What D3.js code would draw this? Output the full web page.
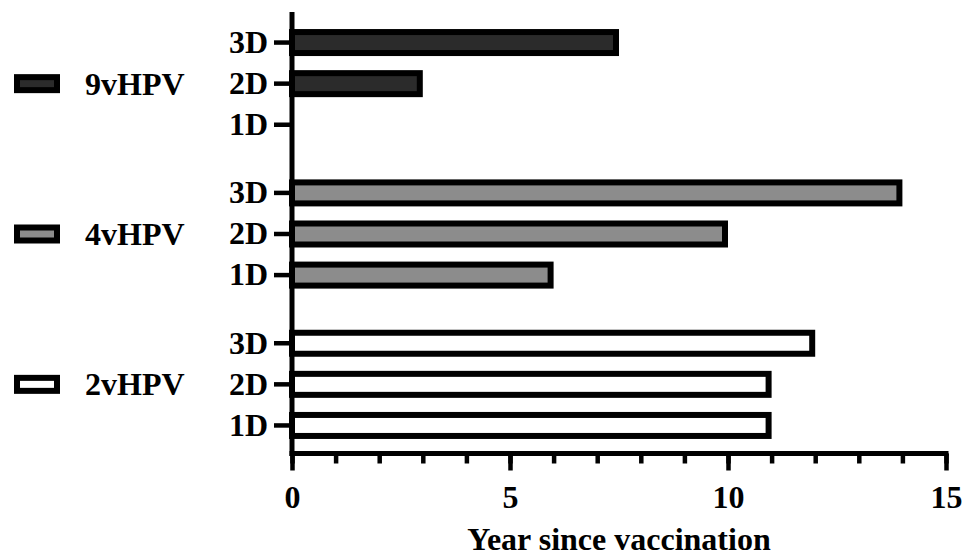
<!DOCTYPE html>
<html>
<head>
<meta charset="utf-8">
<script src="https://cdn.jsdelivr.net/npm/d3@7"></script>
<style>
  html, body { margin: 0; padding: 0; background: #fff; }
  svg { display: block; }
  text { font-family: "Liberation Serif", "Times New Roman", serif; font-weight: bold; fill: #000; }
</style>
</head>
<body>
<svg id="chart" width="962" height="560"></svg>
<script>
// ---- data ----
const vaccines = ["9vHPV", "4vHPV", "2vHPV"];
const doses = ["3D", "2D", "1D"];
const years9v = [7.5, 3, 0];
const years4v = [14, 10, 6];
const years2v = [12, 11, 11];
const fills = ["#2b2b2b", "#8c8c8c", "#ffffff"];
const xTicks = [0, 5, 10, 15];
const xTitle = "Year since vaccination";

const values = [years9v, years4v, years2v];
const rows = [];
vaccines.forEach((v, i) => doses.forEach((d, j) => rows.push({ vaccine: v, dose: d, value: values[i][j], fill: fills[i] })));

// ---- layout ----
const svg = d3.select("#chart");
const x = d3.scaleLinear().domain([0, 15]).range([292, 946]);
const yGroup = d3.scaleBand().domain(vaccines).range([22, 446]).paddingInner(0.18).paddingOuter(0);
const yDose = d3.scaleBand().domain(doses).range([0, yGroup.bandwidth()]).paddingInner(0.35).paddingOuter(0.175);

const barStroke = 6;
const rowCenter = d => yGroup(d.vaccine) + yDose(d.dose) + yDose.bandwidth() / 2;
const barH = 21;

// bars
svg.append("g").selectAll("rect")
  .data(rows.filter(r => r.value > 0))
  .join("rect")
  .attr("x", x(0))
  .attr("y", d => rowCenter(d) - barH / 2)
  .attr("width", d => x(d.value) - x(0) - barStroke / 2)
  .attr("height", barH)
  .attr("fill", d => d.fill)
  .attr("stroke", "#000")
  .attr("stroke-width", barStroke);

// y axis line
svg.append("line")
  .attr("x1", x(0)).attr("x2", x(0))
  .attr("y1", 12).attr("y2", 456)
  .attr("stroke", "#000").attr("stroke-width", 5);

// y axes per group
vaccines.forEach(v => {
  const g = svg.append("g")
    .attr("transform", `translate(${x(0)},${yGroup(v)})`)
    .call(d3.axisLeft(yDose).tickSize(18).tickPadding(6).tickSizeOuter(0));
  g.select(".domain").remove();
  g.selectAll(".tick line").attr("stroke", "#000").attr("stroke-width", 4.5);
  g.selectAll(".tick text")
    .attr("font-size", 32)
    .attr("font-family", "Liberation Serif, Times New Roman, serif")
    .attr("font-weight", "bold")
    .attr("fill", "#000");
});

// x axis
const axisY = 453.5;
const minor = svg.append("g")
  .attr("transform", `translate(0,${axisY})`)
  .call(d3.axisBottom(x).ticks(15).tickSize(10).tickSizeOuter(0).tickFormat(""));
minor.select(".domain").remove();
minor.selectAll(".tick line").attr("stroke", "#000").attr("stroke-width", 4.5);

const major = svg.append("g")
  .attr("transform", `translate(0,${axisY})`)
  .call(d3.axisBottom(x).tickValues(xTicks).tickSize(17).tickSizeOuter(0).tickFormat(d3.format("d")));
major.select(".domain").remove();
major.selectAll(".tick line").attr("stroke", "#000").attr("stroke-width", 4.5);
major.selectAll(".tick text")
  .attr("y", 54).attr("dy", 0)
  .attr("font-size", 32)
  .attr("font-family", "Liberation Serif, Times New Roman, serif")
  .attr("font-weight", "bold")
  .attr("fill", "#000");

svg.append("line")
  .attr("x1", x(0) - 2.5).attr("x2", x(15) + 2.5)
  .attr("y1", axisY).attr("y2", axisY)
  .attr("stroke", "#000").attr("stroke-width", 5);

// x title
svg.append("text")
  .attr("x", (x(0) + x(15)) / 2)
  .attr("y", 550)
  .attr("text-anchor", "middle")
  .attr("font-size", 32)
  .text(xTitle);

// legend
const legend = svg.append("g").selectAll("g")
  .data(vaccines.map((v, i) => ({ v, fill: fills[i] })))
  .join("g")
  .attr("transform", d => `translate(0,${yGroup(d.v) + yDose("2D") + yDose.bandwidth() / 2})`);
legend.append("rect")
  .attr("x", 17).attr("y", -6.5)
  .attr("width", 40).attr("height", 13)
  .attr("fill", d => d.fill)
  .attr("stroke", "#000").attr("stroke-width", 6);
legend.append("text")
  .attr("x", 85).attr("y", 0).attr("dy", "0.34em")
  .attr("font-size", 32)
  .text(d => d.v);
</script>
</body>
</html>
